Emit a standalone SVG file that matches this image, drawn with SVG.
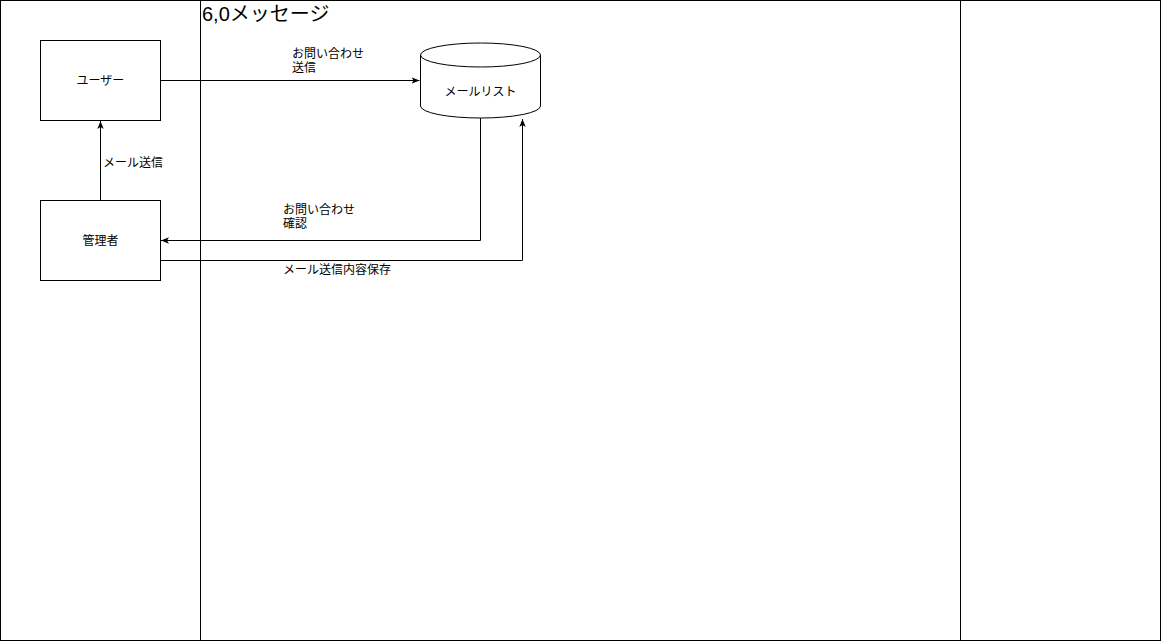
<svg xmlns="http://www.w3.org/2000/svg" width="1161" height="641" viewBox="0 0 1161 641">
<style>
.frame{fill:none;stroke:#000;stroke-width:1}
.box{fill:#fff;stroke:#000;stroke-width:1}
.edge{fill:none;stroke:#000;stroke-width:1}
.t{font-family:"Liberation Sans","Noto Sans CJK JP",sans-serif;font-size:12px;fill:#000}
.c{text-anchor:middle}
.title{font-family:"Liberation Sans","Noto Sans CJK JP",sans-serif;font-size:20px;fill:#000}
</style>
<defs>
<marker id="arr" viewBox="0 0 10 10" refX="10" refY="5" markerWidth="8" markerHeight="8" markerUnits="userSpaceOnUse" orient="auto">
<path d="M0,1 L10,5 L0,9 L2.5,5 Z" fill="#000"/>
</marker>
</defs>
<rect width="1161" height="641" fill="#fff"/>
<g id="frame">
<rect class="frame" x="0.5" y="0.5" width="1160" height="640"/>
<line class="frame" x1="200.5" y1="0" x2="200.5" y2="641"/>
<line class="frame" x1="960.5" y1="0" x2="960.5" y2="641"/>
<text class="title" x="202" y="21">6,0メッセージ</text>
</g>
<g id="connectors">
<path class="edge" d="M160,80.5 H419.5" marker-end="url(#arr)"/>
<path class="edge" d="M100.5,200 V121" marker-end="url(#arr)"/>
<path class="edge" d="M480.5,118 V240.5 H161" marker-end="url(#arr)"/>
<path class="edge" d="M160,260.5 H522.5 V119" marker-end="url(#arr)"/>
<text class="t" x="292" y="58">お問い合わせ</text>
<text class="t" x="292" y="72">送信</text>
<text class="t" x="103" y="167">メール送信</text>
<text class="t" x="283" y="214">お問い合わせ</text>
<text class="t" x="283" y="228">確認</text>
<text class="t" x="283" y="274">メール送信内容保存</text>
</g>
<g id="user">
<rect class="box" x="40.5" y="40.5" width="120" height="80"/>
<text class="t c" x="100.5" y="85">ユーザー</text>
</g>
<g id="admin">
<rect class="box" x="40.5" y="200.5" width="120" height="80"/>
<text class="t c" x="100.5" y="245">管理者</text>
</g>
<g id="maillist">
<path class="box" d="M420.5,55 A60,12 0 0 1 540.5,55 V106 A60,12 0 0 1 420.5,106 Z"/>
<path class="edge" d="M420.5,55 A60,12 0 0 0 540.5,55"/>
<text class="t c" x="480.5" y="96">メールリスト</text>
</g>
</svg>
